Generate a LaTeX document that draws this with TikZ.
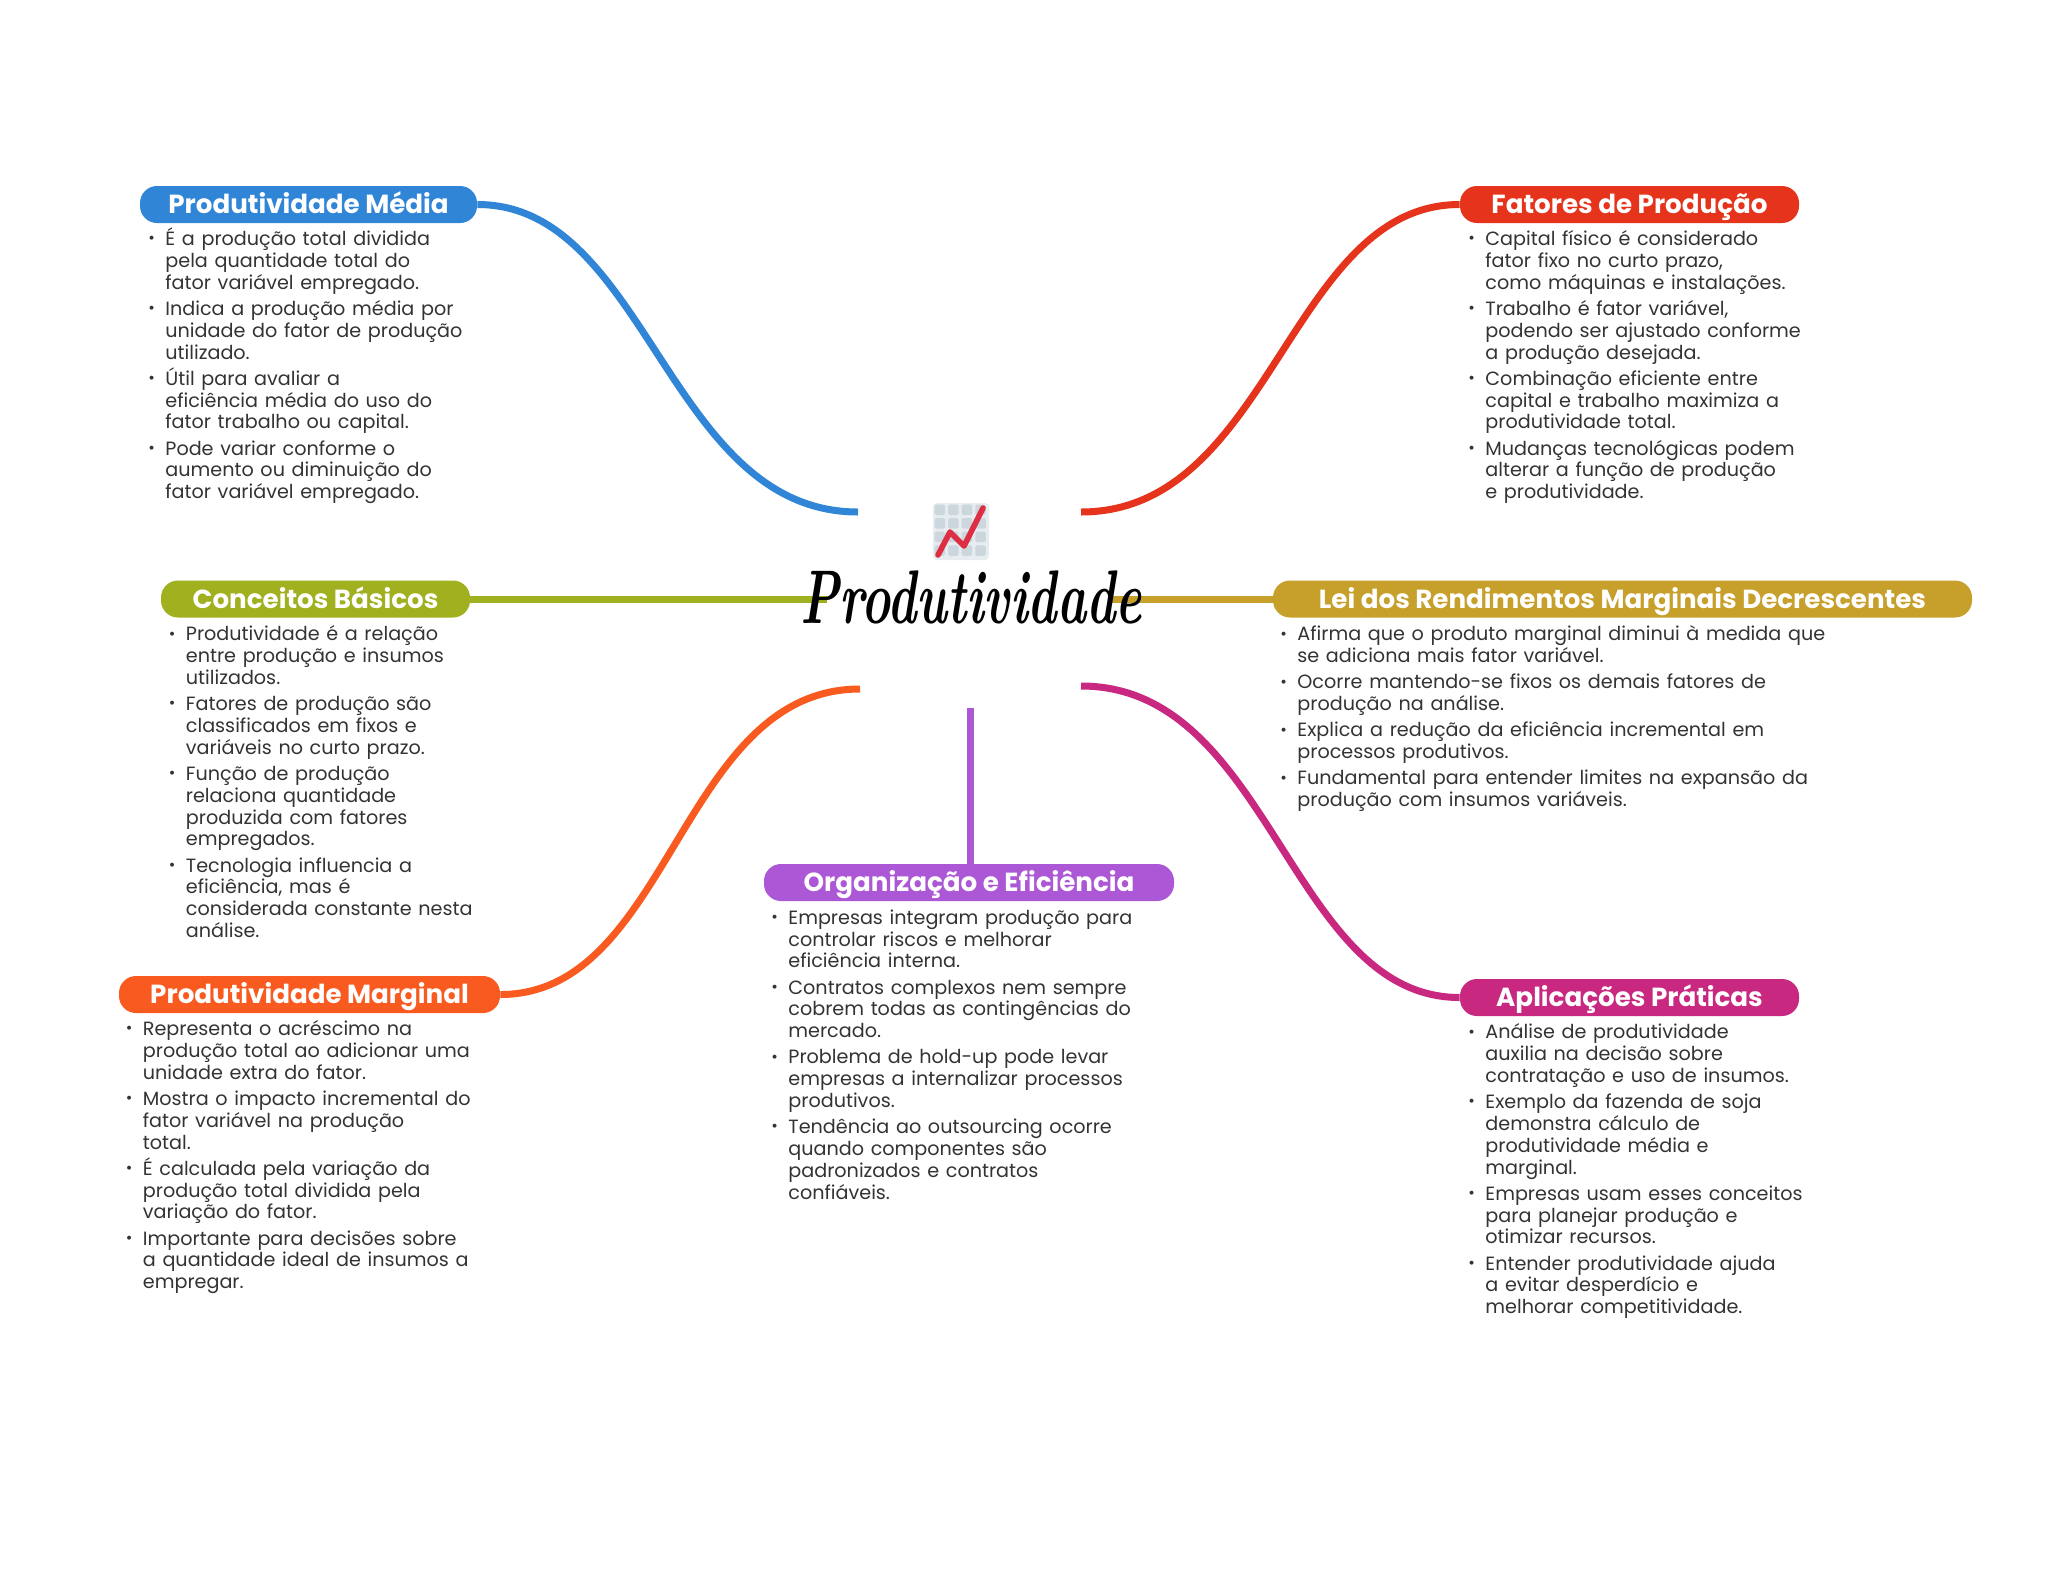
\documentclass[tikz,border=0pt]{standalone}
\usepackage{fontspec}
\setmainfont{Poppins}
\newfontfamily\lmfont{Latin Modern Roman}
\definecolor{cblue}{HTML}{3185D6}
\definecolor{cred}{HTML}{E5341B}
\definecolor{cgreen}{HTML}{A0B01E}
\definecolor{cgold}{HTML}{C7A02C}
\definecolor{cpurple}{HTML}{AB57D6}
\definecolor{corange}{HTML}{F95A1F}
\definecolor{cmag}{HTML}{C8287F}
\definecolor{ctext}{HTML}{333333}
\definecolor{gridbg}{HTML}{E6ECF0}
\definecolor{gridc}{HTML}{CCD6DD}
\definecolor{chart}{HTML}{DD2E44}
\newcommand{\bodyfmt}{\fontsize{9.59}{10.9}\selectfont\lineskiplimit=-20pt\relax\parskip=2.2pt\relax\parindent=0pt\relax\hyphenpenalty=10000\relax}
\newcommand{\bul}[1]{\let\\\newline\hangindent=8.5pt\hangafter=1\relax\noindent\hbox to 8.5pt{\raisebox{0.9pt}{\fontsize{8}{8}\selectfont\textbullet}\hfil}\rule{0pt}{10pt}#1\par}
\tikzset{
  pill/.style={fill=#1,draw=none,rounded corners=8.5pt,inner sep=0pt,text=white,
    text height=11.4pt,text depth=2pt,font=\fontsize{13.08}{13}\selectfont\bfseries},
  body/.style={anchor=north west,inner sep=0pt,text width=320pt,text=ctext,execute at begin node=\bodyfmt},
  conn/.style={line width=3.5pt,draw=#1},
}
\begin{document}
\begin{tikzpicture}[x=0.5pt,y=-0.5pt]
\useasboundingbox (0,0) rectangle (2048,1569);
\fill[white] (0,0) rectangle (2048,1569);

% headers
\node[pill=cblue,minimum width=168.5pt,minimum height=18.5pt] (media) at (308.5,204.5) {Produtividade Média};
\node[pill=cred,minimum width=169.5pt,minimum height=18.5pt] (fatores) at (1629.5,204.5) {Fatores de Produção};
\node[pill=cgreen,minimum width=154.5pt,minimum height=18.5pt] (conceitos) at (315.5,599) {Conceitos Básicos};
\node[pill=cgold,minimum width=349.5pt,minimum height=18.5pt] (lei) at (1622.5,599) {Lei dos Rendimentos Marginais Decrescentes};
\node[pill=cpurple,minimum width=205pt,minimum height=18.5pt] (org) at (969,882.5) {Organização e Eficiência};
\node[pill=corange,minimum width=190.5pt,minimum height=18.5pt] (marg) at (309.5,994.5) {Produtividade Marginal};
\node[pill=cmag,minimum width=169.5pt,minimum height=18.5pt] (apl) at (1629.5,997.5) {Aplicações Práticas};

% free connector ends
\coordinate (cBlue) at (858,512);
\coordinate (cRed) at (1081,512);
\coordinate (cGreen) at (827,599);
\coordinate (cGold) at (1110,599);
\coordinate (cOrange) at (860,689);
\coordinate (cMag) at (1081,686);
\coordinate (cPurple) at (970,708);

% connectors
\draw[conn=cblue] (media.east) .. controls +(170,0) and +(-190,0) .. (cBlue);
\draw[conn=cred] (fatores.west) .. controls +(-170,0) and +(190,0) .. (cRed);
\draw[conn=cgreen] (conceitos.east) -- (cGreen);
\draw[conn=cgold] (lei.west) -- (cGold);
\draw[conn=corange] (marg.east) .. controls +(170,0) and +(-180,0) .. (cOrange);
\draw[conn=cmag] (apl.west) .. controls +(-170,0) and +(190,0) .. (cMag);
\draw[conn=cpurple] (org.north -| cPurple) -- (cPurple);

% icon
\fill[gridbg,rounded corners=2pt] (933,503) rectangle (989,560);
\foreach \i in {0,1,2,3}{\foreach \j in {0,1,2,3}{
  \fill[gridc,rounded corners=0.8pt] ({934.5+13.6*\i},{504.5+13.6*\j}) rectangle ({945+13.6*\i},{515+13.6*\j});
}}
\draw[chart,line width=2.8pt,line cap=round,line join=round] (938,555) -- (950,532) -- (964,546) -- (983,508);

% title
\node[inner sep=0pt,anchor=base,xscale=0.65,text=black] (title) at (971,623) {\lmfont\fontsize{38}{38}\selectfont\bfseries\itshape Produtividade};

% bodies
\node[body] (tmedia) at (148,225.2) {%
\bul{É a produção total dividida\\pela quantidade total do\\fator variável empregado.}
\bul{Indica a produção média por\\unidade do fator de produção\\utilizado.}
\bul{Útil para avaliar a\\eficiência média do uso do\\fator trabalho ou capital.}
\bul{Pode variar conforme o\\aumento ou diminuição do\\fator variável empregado.}};

\node[body] (tfatores) at (1468,225.2) {%
\bul{Capital físico é considerado\\fator fixo no curto prazo,\\como máquinas e instalações.}
\bul{Trabalho é fator variável,\\podendo ser ajustado conforme\\a produção desejada.}
\bul{Combinação eficiente entre\\capital e trabalho maximiza a\\produtividade total.}
\bul{Mudanças tecnológicas podem\\alterar a função de produção\\e produtividade.}};

\node[body] (tconceitos) at (168.5,620.5) {%
\bul{Produtividade é a relação\\entre produção e insumos\\utilizados.}
\bul{Fatores de produção são\\classificados em fixos e\\variáveis no curto prazo.}
\bul{Função de produção\\relaciona quantidade\\produzida com fatores\\empregados.}
\bul{Tecnologia influencia a\\eficiência, mas é\\considerada constante nesta\\análise.}};

\node[body] (tlei) at (1280,620.5) {%
\bul{Afirma que o produto marginal diminui à medida que\\se adiciona mais fator variável.}
\bul{Ocorre mantendo-se fixos os demais fatores de\\produção na análise.}
\bul{Explica a redução da eficiência incremental em\\processos produtivos.}
\bul{Fundamental para entender limites na expansão da\\produção com insumos variáveis.}};

\node[body] (torg) at (771,903.8) {%
\bul{Empresas integram produção para\\controlar riscos e melhorar\\eficiência interna.}
\bul{Contratos complexos nem sempre\\cobrem todas as contingências do\\mercado.}
\bul{Problema de hold-up pode levar\\empresas a internalizar processos\\produtivos.}
\bul{Tendência ao outsourcing ocorre\\quando componentes são\\padronizados e contratos\\confiáveis.}};

\node[body] (tmarg) at (125.5,1015.2) {%
\bul{Representa o acréscimo na\\produção total ao adicionar uma\\unidade extra do fator.}
\bul{Mostra o impacto incremental do\\fator variável na produção\\total.}
\bul{É calculada pela variação da\\produção total dividida pela\\variação do fator.}
\bul{Importante para decisões sobre\\a quantidade ideal de insumos a\\empregar.}};

\node[body] (tapl) at (1468,1018.5) {%
\bul{Análise de produtividade\\auxilia na decisão sobre\\contratação e uso de insumos.}
\bul{Exemplo da fazenda de soja\\demonstra cálculo de\\produtividade média e\\marginal.}
\bul{Empresas usam esses conceitos\\para planejar produção e\\otimizar recursos.}
\bul{Entender produtividade ajuda\\a evitar desperdício e\\melhorar competitividade.}};
\end{tikzpicture}
\end{document}
